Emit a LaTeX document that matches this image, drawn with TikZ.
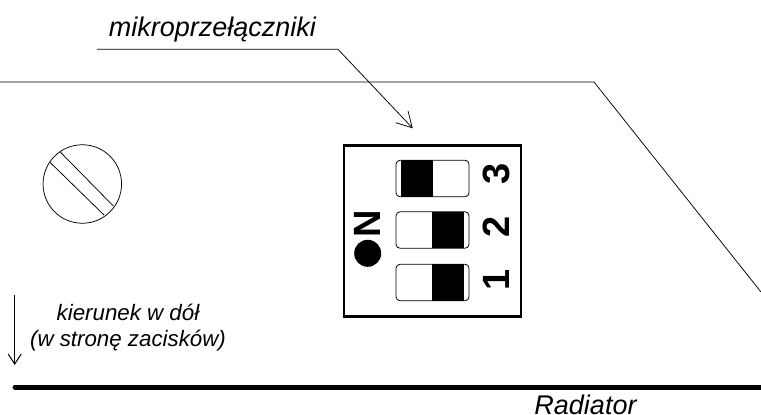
\documentclass[tikz,border=0pt]{standalone}
\usepackage{fontspec}
\setmainfont{Liberation Sans}
\usetikzlibrary{arrows.meta}
\begin{document}
\begin{tikzpicture}[x=1pt, y=-1pt,
	every node/.style={inner sep=0pt, outer sep=0pt},
	label/.style={font=\fontsize{27}{30}\selectfont\itshape, anchor=base},
	note/.style={font=\fontsize{22.3}{26}\selectfont\itshape, anchor=base},
	digit/.style={font=\fontsize{38}{40}\selectfont\bfseries, rotate=90},
	slider/.style={draw, rounded corners=4pt, minimum width=73pt, minimum height=36.5pt, line width=0.8pt},
	knob/.style={fill=black, minimum width=31.5pt, minimum height=36.5pt},
	thin line/.style={line width=0.75pt},
	big tip/.style={-{Straight Barb[length=15pt, width=17pt, line width=0.75pt]}},
	small tip/.style={-{Straight Barb[length=10pt, width=13pt, line width=1pt]}}]
	\useasboundingbox (0,0) rectangle (761,415);
	
	% panel outline
	\coordinate (P1) at (0,82);
	\coordinate (P2) at (594,82);
	\coordinate (P3) at (761,292);
	\draw[thin line] (P1)--(P2)--(P3);
	
	% heatsink edge
	\coordinate (R1) at (15,387);
	\coordinate (R2) at (763,387);
	\draw[line width=5pt, line cap=round] (R1)--(R2);
	\node[label] (radiator) at (585.5,414) {Radiator};
	
	% screw
	\node[draw, circle, thin line, minimum size=78.5pt] (screw) at (82.3,184) {};
	\coordinate (S1) at (60,151.7);
	\coordinate (S2) at (113.3,206);
	\coordinate (S3) at (50,162.3);
	\coordinate (S4) at (104,215);
	\draw[thin line] (S1)--(S2);
	\draw[thin line] (S3)--(S4);
	
	% switch block
	\node[draw, line width=2.5pt, minimum width=177pt, minimum height=171pt] (block) at (432.5,231) {};
	\node[slider] (sw3) at (432.5,178.5) {};
	\node[slider] (sw2) at (432.5,230) {};
	\node[slider] (sw1) at (432.5,282.5) {};
	\node[knob] (knob3) at (417.2,178.5) {};
	\node[knob] (knob2) at (447.8,230) {};
	\node[knob] (knob1) at (447.8,282.5) {};
	\node[digit] (three) at (496.7,174) {3};
	\node[digit] (two) at (496.7,227) {2};
	\node[digit] (one) at (496.7,280) {1};
	\node[digit] (on) at (367.7,224) {N};
	\node[circle, fill=black, minimum size=27pt] (dot) at (367.7,253.3) {};
	
	% callout
	\node[label] (micro) at (212.5,36) {mikroprzełączniki};
	\coordinate (L1) at (97,49.3);
	\coordinate (L2) at (338,49.3);
	\coordinate (L3) at (412.7,128.3);
	\draw[thin line, big tip] (L1)--(L2)--(L3);
	
	% direction
	\node[note] (dir1) at (128,320.7) {kierunek w dół};
	\node[note] (dir2) at (128,346) {(w stronę zacisków)};
	\coordinate (D1) at (14.7,295);
	\coordinate (D2) at (14.7,365);
	\draw[thin line, small tip] (D1)--(D2);
\end{tikzpicture}
\end{document}
